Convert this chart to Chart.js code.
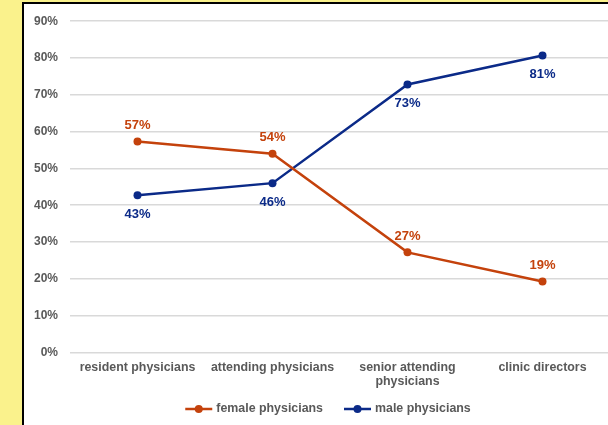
<!DOCTYPE html>
<html>
<head>
<meta charset="utf-8">
<script src="https://cdn.jsdelivr.net/npm/chart.js@4/dist/chart.umd.min.js"></script>
<style>
  html, body { margin: 0; padding: 0; overflow: hidden; }
  body { width: 608px; height: 425px; background: #FAF28C; position: relative; }
  #box { position: absolute; left: 22px; top: 2px; width: 600px; height: 440px;
         border: 2px solid #000; background: #fff; }
  #box canvas { display: block; margin-top: -2px; }
</style>
</head>
<body>
<div id="box"><canvas id="chart_main" width="600" height="440"></canvas></div>
<script>
var categories = ['resident physicians', 'attending physicians', ['senior attending', 'physicians'], 'clinic directors'];
var femaleValues = [57.3, 54.0, 27.2, 19.3];
var maleValues = [42.7, 46.0, 72.8, 80.7];
var femaleLabels = ['57%', '54%', '27%', '19%'];
var maleLabels = ['43%', '46%', '73%', '81%'];

var FONT = "'Liberation Sans', Arial, sans-serif";
var ORANGE = '#C4420C';
var NAVY = '#0B2A88';
var GREY = '#595959';

var valueLabels = {
    id: 'valueLabels',
    afterDatasetsDraw: function(chart) {
        var ctx = chart.ctx;
        ctx.save();
        ctx.font = 'bold 13px ' + FONT;
        ctx.textAlign = 'center';
        ctx.textBaseline = 'middle';
        chart.data.datasets.forEach(function(ds, i) {
            var meta = chart.getDatasetMeta(i);
            ctx.fillStyle = ds.borderColor;
            meta.data.forEach(function(pt, j) {
                ctx.fillText(ds.valueText[j], pt.x, pt.y + ds.labelOffset);
            });
        });
        ctx.restore();
    }
};

// legend drawn by hand: line-dot-line marker followed by the series name
var lineLegend = {
    id: 'lineLegend',
    afterDraw: function(chart, args, opts) {
        var ctx = chart.ctx;
        var dsets = chart.data.datasets;
        ctx.save();
        ctx.font = 'bold 12.4px ' + FONT;
        ctx.textBaseline = 'middle';
        var markW = 27, gapText = 4, gapItem = 21;
        var total = 0;
        dsets.forEach(function(ds, i) {
            total += markW + gapText + ctx.measureText(ds.label).width;
            if (i < dsets.length - 1) total += gapItem;
        });
        var x = opts.centerX - total / 2;
        var y = opts.y;
        dsets.forEach(function(ds) {
            ctx.strokeStyle = ds.borderColor;
            ctx.fillStyle = ds.borderColor;
            ctx.lineWidth = 2.5;
            ctx.beginPath(); ctx.moveTo(x, y); ctx.lineTo(x + markW, y); ctx.stroke();
            ctx.beginPath(); ctx.arc(x + markW / 2, y, 4, 0, Math.PI * 2); ctx.fill();
            x += markW + gapText;
            ctx.fillStyle = GREY;
            ctx.fillText(ds.label, x, y);
            x += ctx.measureText(ds.label).width + gapItem;
        });
        ctx.restore();
    }
};

new Chart(document.getElementById('chart_main').getContext('2d'), {
    type: 'line',
    data: {
        labels: categories,
        datasets: [
            {
                label: 'female physicians',
                data: femaleValues,
                valueText: femaleLabels,
                labelOffset: -16,
                borderColor: ORANGE,
                backgroundColor: ORANGE,
                borderWidth: 2.5,
                pointRadius: 4,
                pointBorderWidth: 0,
                pointHoverRadius: 4,
                pointStyle: 'circle',
                tension: 0
            },
            {
                label: 'male physicians',
                data: maleValues,
                valueText: maleLabels,
                labelOffset: 19,
                borderColor: NAVY,
                backgroundColor: NAVY,
                borderWidth: 2.5,
                pointRadius: 4,
                pointBorderWidth: 0,
                pointHoverRadius: 4,
                pointStyle: 'circle',
                tension: 0
            }
        ]
    },
    options: {
        responsive: false,
        animation: false,
        layout: { padding: { top: 16, right: 14, left: 0, bottom: 45 } },
        plugins: {
            tooltip: { enabled: false },
            legend: { display: false },
            lineLegend: { centerX: 304, y: 407 }
        },
        scales: {
            x: {
                offset: true,
                grid: { display: false, drawTicks: false },
                border: { display: false },
                ticks: {
                    color: GREY,
                    padding: 8,
                    maxRotation: 0,
                    autoSkip: false,
                    font: { family: FONT, size: 12.4, weight: 'bold', lineHeight: 1.15 }
                }
            },
            y: {
                min: 0,
                max: 90,
                afterFit: function(scale) { scale.width = 46; },
                grid: { color: '#D9D9D9', lineWidth: 1.5, drawTicks: false },
                border: { display: false },
                ticks: {
                    stepSize: 10,
                    padding: 12,
                    color: GREY,
                    font: { family: FONT, size: 12, weight: 'bold' },
                    callback: function(v) { return v + '%'; }
                }
            }
        }
    },
    plugins: [valueLabels, lineLegend]
});
</script>
</body>
</html>
